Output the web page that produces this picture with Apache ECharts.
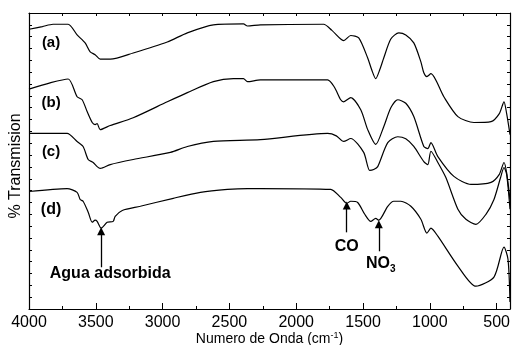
<!DOCTYPE html>
<html>
<head>
<meta charset="utf-8">
<script src="https://cdn.jsdelivr.net/npm/echarts@6/dist/echarts.min.js"></script>
<style>
html, body { margin: 0; padding: 0; background: #fff; }
#chart { width: 512px; height: 345px; }
</style>
</head>
<body>
<div id="chart"></div>
<script>
// wavenumber ticks
var majorTicks = [500, 1000, 1500, 2000, 2500, 3000, 3500, 4000];
var minorTicks = [750, 1250, 1750, 2250, 2750, 3250, 3750];
var allTicks = majorTicks.concat(minorTicks);

// spectra: [wavenumber (cm-1), % transmision]
var curveA = [[4000,94.5],[3900,95.4],[3820,96.2],[3707,96.2],[3640,92.6],[3580,89.9],[3542,86.9],[3505,85.9],[3467,84.4],[3392,84.4],[3220,86.5],[2965,90.2],[2815,93.3],[2620,96.0],[2395,96.3],[2365,95.6],[2268,96.0],[1795,96.2],[1735,94.2],[1667,91.2],[1645,90.7],[1592,92.4],[1532,91.6],[1465,84.8],[1435,80.8],[1405,77.8],[1375,80.8],[1345,84.8],[1292,91.2],[1232,93.3],[1180,92.6],[1120,89.9],[1067,83.5],[1045,79.8],[1022,78.5],[992,79.5],[895,71.7],[790,65.0],[670,63.0],[542,63.3],[480,66.0],[445,70.0],[425,66.0],[400,58.9]];
var curveB = [[4000,74.3],[3842,76.4],[3707,77.7],[3640,71.7],[3602,70.7],[3565,66.7],[3527,63.0],[3505,62.3],[3490,62.6],[3467,60.6],[3392,62.0],[3220,64.6],[2965,70.0],[2815,73.1],[2620,76.8],[2470,77.8],[2395,77.8],[2365,76.8],[2268,77.4],[1765,77.4],[1715,75.0],[1667,70.7],[1645,70.0],[1592,71.4],[1517,67.3],[1465,60.6],[1405,55.6],[1345,61.6],[1292,68.0],[1240,70.7],[1180,69.5],[1120,65.0],[1045,54.9],[1015,54.2],[992,56.2],[940,51.5],[820,44.8],[692,42.1],[542,42.8],[480,45.5],[445,49.5],[425,46.0],[400,37.0]];
var curveC = [[4000,59.3],[3715,59.3],[3640,56.6],[3595,54.9],[3557,50.5],[3520,49.5],[3490,48.1],[3467,47.5],[3392,48.8],[3220,50.5],[2942,52.9],[2815,54.9],[2620,56.6],[2268,57.2],[1765,59.3],[1700,58.5],[1645,56.6],[1592,57.6],[1495,52.9],[1450,46.8],[1420,47.1],[1390,48.1],[1315,56.2],[1240,58.2],[1180,57.5],[1120,54.9],[1045,49.8],[1015,48.8],[992,53.3],[940,49.5],[880,44.4],[790,33.7],[730,30.3],[655,28.6],[580,32.0],[520,37.0],[470,44.5],[445,47.8],[425,45.5],[400,33.7]];
var curveD = [[4000,39.7],[3715,40.7],[3640,39.4],[3617,37.0],[3595,36.4],[3557,32.7],[3527,29.3],[3505,30.0],[3490,29.6],[3460,27.3],[3415,29.3],[3370,29.6],[3355,31.3],[3302,33.3],[3167,34.7],[2920,37.4],[2717,39.4],[2515,40.4],[2365,40.7],[2268,40.7],[1742,40.4],[1667,37.7],[1622,35.7],[1592,36.4],[1540,36.0],[1487,32.0],[1442,29.6],[1405,30.6],[1382,30.0],[1315,34.7],[1270,36.4],[1217,36.4],[1142,34.7],[1067,30.3],[1022,25.6],[992,27.3],[940,24.6],[790,14.5],[655,7.7],[520,10.8],[445,20.9],[415,16.8],[400,2.4]];

var curveNames = ['(a)', '(b)', '(c)', '(d)'];
var curveLabelAt = [[3835,89.9],[3835,69.7],[3835,53.2],[3835,33.7]];

// annotations: text, arrow x, arrow foot, arrow tip, text position
var noteTexts = ['Agua adsorbida', '{b|CO}', '{b|NO}{s|3}'];
var noteArrows = [[3460,14.1,26.3],[1622,25.9,35.0],[1382,19.5,28.6]];
var noteTextAt = [[3392,12.1],[1622,21.2],[1367,15.2]];

var FONT = 'Liberation Sans, Arial, Helvetica, sans-serif';
var chart = echarts.init(document.getElementById('chart'));

function xAxisBase(extra) {
	var a = {
		type: 'value',
		min: 400,
		max: 4000,
		inverse: true,
		splitLine: { show: false },
		axisLine: { show: false },
		axisLabel: { show: false },
		axisTick: { show: false }
	};
	for (var k in extra) a[k] = extra[k];
	return a;
}

var curves = [curveA, curveB, curveC, curveD];
var series = curves.map(function (data, i) {
	var s = {
		name: curveNames[i],
		type: 'line',
		data: data,
		showSymbol: false,
		smooth: 0.25,
		lineStyle: { color: '#000', width: 1.2 },
		silent: true,
		markPoint: {
			silent: true,
			symbol: 'rect',
			symbolSize: 1,
			itemStyle: { color: 'rgba(0,0,0,0)' },
			label: {
				show: true,
				position: 'inside',
				formatter: '{b}',
				color: '#000',
				fontFamily: FONT,
				fontSize: 15,
				fontWeight: 'bold'
			},
			data: [{ name: curveNames[i], coord: curveLabelAt[i] }]
		}
	};
	if (i === 3) {
		s.markLine = {
			silent: true,
			symbol: ['none', 'triangle'],
			symbolSize: 8,
			label: { show: false },
			lineStyle: { color: '#000', width: 1.3, type: 'solid' },
			itemStyle: { color: '#000' },
			emphasis: { disabled: true },
			data: noteArrows.map(function (a) {
				return [{ coord: [a[0], a[1]] }, { coord: [a[0], a[2]] }];
			})
		};
		s.markPoint.data = s.markPoint.data.concat(noteTexts.map(function (t, j) {
			return { name: t, coord: noteTextAt[j] };
		}));
		s.markPoint.label.rich = {
			b: { fontFamily: FONT, fontSize: 16, fontWeight: 'bold', color: '#000' },
			s: { fontFamily: FONT, fontSize: 10, fontWeight: 'bold', color: '#000', padding: [10, 0, 0, 0] }
		};
		s.markPoint.label.fontSize = 16;
	}
	return s;
});

var option = {
	animation: false,
	backgroundColor: '#fff',
	grid: { left: 29, right: 2, top: 13, bottom: 36, containLabel: false, outerBoundsMode: 'none' },
	xAxis: [
		xAxisBase({
			position: 'bottom',
			axisLine: { show: true, lineStyle: { color: '#000', width: 1.2 } },
			axisTick: { show: true, inside: true, length: 6, customValues: majorTicks, lineStyle: { color: '#000' } },
			axisLabel: {
				show: true, customValues: majorTicks, color: '#000', fontFamily: FONT, fontSize: 16, margin: 6,
				formatter: function (v) { return String(v); }
			},
			name: 'Numero de Onda (cm{sup|-1})',
			nameLocation: 'middle',
			nameGap: 22,
			nameMoveOverlap: false,
			nameTextStyle: {
				color: '#000', fontFamily: FONT, fontSize: 14,
				rich: { sup: { fontFamily: FONT, fontSize: 9, color: '#000', padding: [0, 0, 8, 0] } }
			}
		}),
		xAxisBase({
			position: 'bottom',
			axisTick: { show: true, inside: true, length: 3, customValues: minorTicks, lineStyle: { color: '#000' } }
		}),
		xAxisBase({
			position: 'top',
			axisLine: { show: true, lineStyle: { color: '#000', width: 1.2 } },
			axisTick: { show: true, inside: true, length: 3, customValues: allTicks, lineStyle: { color: '#000' } }
		})
	],
	yAxis: [
		{
			type: 'value',
			min: 0,
			max: 100,
			interval: 4,
			position: 'left',
			splitLine: { show: false },
			axisLine: { show: true, lineStyle: { color: '#000', width: 1.2 } },
			axisTick: { show: true, inside: true, length: 3, lineStyle: { color: '#000' } },
			axisLabel: { show: false },
			name: '% Transmision',
			nameLocation: 'middle',
			nameGap: 5,
			nameTextStyle: { color: '#000', fontFamily: FONT, fontSize: 16, padding: [0, 10, 0, 0] }
		},
		{
			type: 'value',
			min: 0,
			max: 100,
			interval: 4,
			position: 'right',
			splitLine: { show: false },
			axisLine: { show: true, lineStyle: { color: '#000', width: 1.2 } },
			axisTick: { show: true, inside: true, length: 3, lineStyle: { color: '#000' } },
			axisLabel: { show: false }
		}
	],
	series: series
};

chart.setOption(option);
</script>
</body>
</html>
